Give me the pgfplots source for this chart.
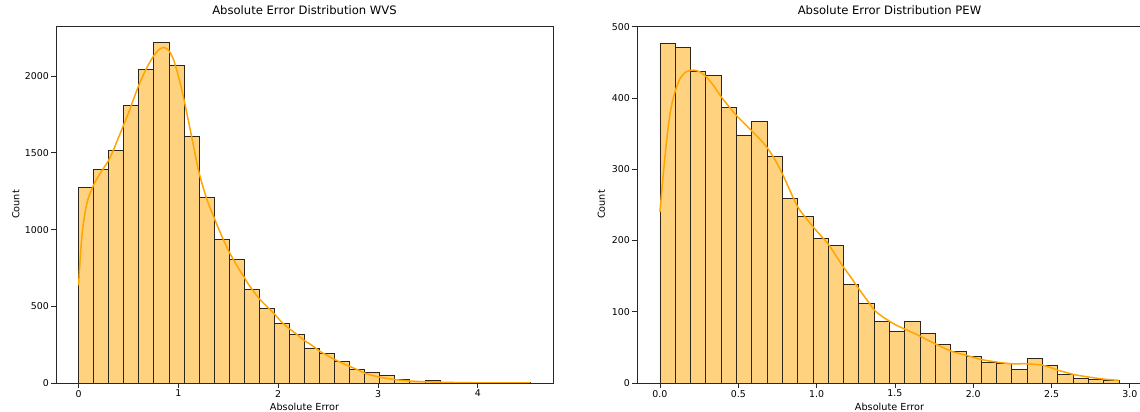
\documentclass[border=0pt]{standalone}
\usepackage{fontspec}
\setmainfont{DejaVu Sans}
\usepackage{pgfplots}
\pgfplotsset{compat=1.18}
\definecolor{barfill}{RGB}{255,210,127}
\definecolor{baredge}{RGB}{45,38,25}
\definecolor{kde}{RGB}{255,165,0}
\definecolor{spine}{RGB}{40,40,40}

\pgfplotsset{
  hist/.style={
    scale only axis, height=357bp,
    anchor=south west,
    axis line style={spine, line width=0.8bp},
    tick style={spine, line width=0.8bp},
    major tick length=4.9bp,
    tick align=outside, xtick pos=bottom, ytick pos=left,
    ymin=0,
    /pgf/number format/assume math mode=true,
    /pgf/number format/1000 sep={},
    scaled ticks=false,
    tick label style={font=\fontsize{9.4bp}{11bp}\selectfont, inner sep=2bp},
    label style={font=\fontsize{9.7bp}{11.5bp}\selectfont},
    title style={font=\fontsize{11.6bp}{13.5bp}\selectfont, at={(axis description cs:0.5,1)}, anchor=base, yshift=6bp},
    xlabel style={at={(axis description cs:0.5,0)}, anchor=base, yshift=-27.5bp},
  },
  bars/.style={ybar interval, fill=barfill, draw=baredge, line width=0.9bp},
  kdeline/.style={kde, line width=1.5bp, smooth, no markers},
}

\begin{document}
\begin{tikzpicture}
\begin{axis}[hist,
  at={(56bp,29bp)}, width=497bp,
  xmin=-0.2264, xmax=4.7534, ymax=2327,
  xtick={0,1,2,3,4}, ytick={0,500,1000,1500,2000},
  title={Absolute Error Distribution WVS},
  xlabel={Absolute Error}, ylabel={Count},
  ylabel style={at={(axis description cs:-0.0738,0.5)}, anchor=base},
]
\addplot[bars] coordinates {
(0,1274) (0.1509,1389) (0.3018,1517) (0.4527,1811) (0.6036,2041) (0.7545,2217)
(0.9054,2067) (1.0563,1604) (1.2072,1207) (1.3581,937) (1.509,804) (1.6599,611)
(1.8108,487) (1.9617,391) (2.1126,315) (2.2635,224) (2.4144,191) (2.5653,143)
(2.7162,87) (2.8671,67) (3.018,48) (3.1689,22) (3.3198,13) (3.4707,17)
(3.6216,5) (3.7725,3) (3.9234,2) (4.0743,1) (4.2252,1) (4.3761,1) (4.527,1)
};
\addplot[kdeline] coordinates {
(0,637) (0.02,850) (0.04,1000) (0.07,1130) (0.1,1210) (0.15,1290) (0.2,1350)
(0.25,1400) (0.3,1450) (0.35,1520) (0.4,1600) (0.45,1680) (0.5,1760) (0.55,1850)
(0.6,1935) (0.65,2010) (0.7,2075) (0.75,2130) (0.8,2170) (0.85,2187) (0.9,2170)
(0.95,2110) (1.0,2000) (1.05,1865) (1.1,1710) (1.15,1550) (1.2,1390) (1.25,1270)
(1.3,1170) (1.357,1080) (1.4,1010) (1.5,865) (1.6,750) (1.66,690) (1.7,645)
(1.81,550) (1.9,490) (1.96,452) (2.03,400) (2.11,354) (2.19,315) (2.26,278)
(2.34,245) (2.41,210) (2.49,180) (2.56,155) (2.64,130) (2.71,110) (2.8,85)
(2.877,62) (3.01,39) (3.177,22) (3.32,13) (3.54,6.5) (3.877,2) (4.2,1) (4.527,0)
};
\end{axis}

\begin{axis}[hist,
  at={(637bp,29bp)}, width=505bp,
  xmin=-0.1466, xmax=3.0776, ymax=501,
  xtick={0,0.5,1,1.5,2,2.5,3}, ytick={0,100,200,300,400,500},
  xticklabel style={/pgf/number format/fixed, /pgf/number format/precision=1, /pgf/number format/fixed zerofill},
  title={Absolute Error Distribution PEW},
  xlabel={Absolute Error}, ylabel={Count},
  ylabel style={at={(axis description cs:-0.0634,0.5)}, anchor=base},
]
\addplot[bars] coordinates {
(0,477) (0.0977,471) (0.1954,437) (0.2931,432) (0.3908,386) (0.4885,347)
(0.5862,367) (0.6839,318) (0.7816,259) (0.8793,234) (0.977,203) (1.0747,193)
(1.1724,138) (1.2701,112) (1.3678,87) (1.4655,73) (1.5632,87) (1.6609,69)
(1.7586,54) (1.8563,44) (1.954,37) (2.0517,29) (2.1494,28) (2.2471,19)
(2.3448,35) (2.4425,24) (2.5402,12) (2.6379,7) (2.7356,5) (2.8333,4) (2.931,4)
};
\addplot[kdeline] coordinates {
(0,240) (0.02,290) (0.045,345) (0.07,385) (0.098,410) (0.13,428) (0.17,437)
(0.213,439) (0.25,437) (0.294,430) (0.34,418) (0.39,402) (0.44,388) (0.49,375)
(0.54,364) (0.585,354) (0.635,343) (0.685,330) (0.735,313) (0.783,293) (0.83,270)
(0.88,247) (0.93,232) (0.978,219) (1.026,207) (1.074,195) (1.12,180) (1.17,163)
(1.22,148) (1.27,132) (1.32,117) (1.37,102) (1.415,94) (1.463,87) (1.51,81)
(1.559,76) (1.61,71) (1.659,66) (1.71,60) (1.757,55) (1.805,50) (1.855,45)
(1.9,42) (1.953,39) (2.0,36) (2.05,33) (2.1,31) (2.148,29.5) (2.2,28) (2.246,27)
(2.3,27) (2.344,27) (2.4,26) (2.442,25) (2.49,22) (2.54,18) (2.59,15) (2.638,12)
(2.69,10) (2.736,8.4) (2.78,7) (2.834,5.5) (2.88,4.5) (2.931,3.7)
};
\end{axis}
\pgfresetboundingbox
\path (0,0) rectangle (1140bp,412bp);
\end{tikzpicture}
\end{document}
